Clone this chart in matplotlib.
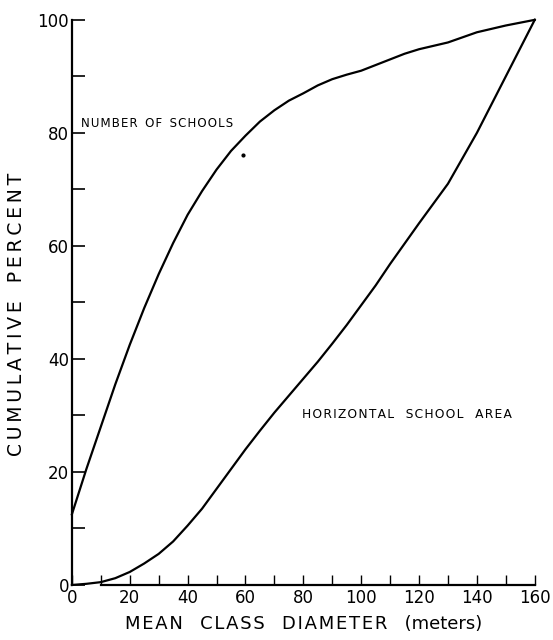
import matplotlib
matplotlib.use("Agg")
import matplotlib.pyplot as plt
from matplotlib.ticker import MultipleLocator

diameter = [0, 5, 10, 15, 20, 25, 30, 35, 40, 45, 50, 55, 60, 65, 70, 75, 80,
            85, 90, 95, 100, 105, 110, 115, 120, 125, 130, 135, 140, 145, 150, 155, 160]
num_schools = [12.5, 20.5, 28, 35.5, 42.5, 49, 55, 60.5, 65.5, 69.7, 73.5, 76.8, 79.5, 82, 84, 85.7, 87,
               88.4, 89.5, 90.3, 91, 92, 93, 94, 94.8, 95.4, 96, 96.9, 97.8, 98.4, 99, 99.5, 100]
horiz_area = [0, 0.2, 0.5, 1.2, 2.3, 3.8, 5.5, 7.7, 10.5, 13.5, 17, 20.5, 24, 27.3, 30.5, 33.5, 36.5,
              39.5, 42.7, 46, 49.5, 53, 56.8, 60.4, 64, 67.5, 71, 75.5, 80, 85, 90, 95, 100]
stray_x, stray_y = [59], [76]

xticks = [0, 20, 40, 60, 80, 100, 120, 140, 160]
yticks = [0, 20, 40, 60, 80, 100]


def spaced(s, sep='\u200a'):
    return sep.join(s)


plt.rcParams['font.family'] = ['DejaVu Sans']
fig = plt.figure(figsize=(5.53, 6.4), dpi=100)
ax = fig.add_axes([0.130, 0.086, 0.837, 0.883])

ax.plot(diameter, num_schools, color='black', lw=1.6, clip_on=False, solid_joinstyle='round')
ax.plot(diameter, horiz_area, color='black', lw=1.6, clip_on=False, solid_joinstyle='round')
ax.plot(stray_x, stray_y, 'o', color='black', ms=2)

ax.set_xlim(0, 160)
ax.set_ylim(0, 100)
ax.set_xticks(xticks)
ax.set_yticks(yticks)
ax.xaxis.set_minor_locator(MultipleLocator(10))
ax.yaxis.set_minor_locator(MultipleLocator(10))
ax.set_xticklabels([str(v) for v in xticks], fontsize=12)
ax.set_yticklabels([str(v) for v in yticks], fontsize=12)

ax.spines['top'].set_visible(False)
ax.spines['right'].set_visible(False)
ax.spines['left'].set_linewidth(1.6)
ax.spines['bottom'].set_linewidth(1.6)
ax.spines['bottom'].set_bounds(10, 160)

ax.tick_params(axis='y', which='both', direction='in', length=9, width=1.2, pad=2)
ax.tick_params(axis='x', which='both', direction='in', length=7, width=1.0, pad=3)

ax.set_ylabel(spaced('CUMULATIVE', '\u2009') + '   ' + spaced('PERCENT', '\u2009'), fontsize=13.5)
ax.yaxis.set_label_coords(-0.1, 0.478)
ax.set_xlabel(spaced('MEAN') + '   ' + spaced('CLASS') + '   ' + spaced('DIAMETER') + '   (meters)',
              fontsize=13, labelpad=6)

ax.text(3, 81.6, spaced('NUMBER') + '  ' + spaced('OF') + '  ' + spaced('SCHOOLS'),
        fontsize=8.5, va='center', ha='left', fontweight='medium')
ax.text(79.5, 30.1, spaced('HORIZONTAL') + '   ' + spaced('SCHOOL') + '   ' + spaced('AREA'),
        fontsize=8.8, va='center', ha='left', fontweight='medium')

fig.savefig('out.png', dpi=100)
